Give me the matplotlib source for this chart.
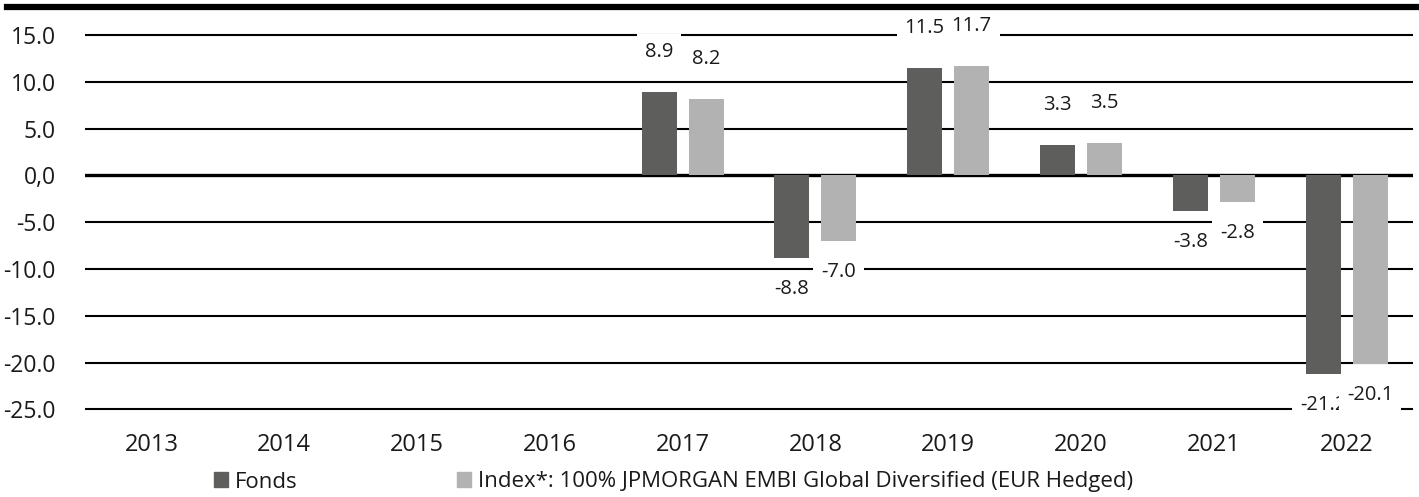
import matplotlib.pyplot as plt
import numpy as np
from matplotlib.lines import Line2D
from matplotlib.patches import Patch

plt.rcParams['font.family'] = ['Open Sans', 'DejaVu Sans']

# data
years = ['2013', '2014', '2015', '2016', '2017', '2018', '2019', '2020', '2021', '2022']
fonds = [None, None, None, None, 8.9, -8.8, 11.5, 3.3, -3.8, -21.2]
index = [None, None, None, None, 8.2, -7.0, 11.7, 3.5, -2.8, -20.1]
yticks = [15, 10, 5, 0, -5, -10, -15, -20, -25]
ytick_labels = ['15.0', '10.0', '5.0', '0,0', '-5.0', '-10.0', '-15.0', '-20.0', '-25.0']
series_names = ['Fonds', 'Index*: 100% JPMORGAN EMBI Global Diversified (EUR Hedged)']

c_fonds = '#5e5e5c'
c_index = '#b2b2b2'

W, H = 1419, 497
fig = plt.figure(figsize=(W / 100, H / 100), dpi=100)

# axes placement in pixels
ax_left, ax_right = 85, 1413
ax_top, ax_bot = 32.2, 412.3
ax = fig.add_axes([ax_left / W, 1 - ax_bot / H, (ax_right - ax_left) / W, (ax_bot - ax_top) / H])

ax.set_ylim(-25.3, 15.3)
ax.set_xlim(-0.5, len(years) - 0.5)

for t in yticks:
    ax.axhline(t, color='black', lw=2.4 if t == 0 else 1.5, zorder=1)

x = np.arange(len(years))
off, bw = 0.177, 0.264
bar_sets = [(fonds, -off, c_fonds), (index, off, c_index)]
for vals, dx, col in bar_sets:
    xs = [xi + dx for xi, v in zip(x, vals) if v is not None]
    vs = [v for v in vals if v is not None]
    ax.bar(xs, vs, width=bw, color=col, zorder=3)

# value labels with white boxes, drawn in order so later boxes overlap earlier ones
z = 5
for i in range(len(years)):
    for vals, dx, col in bar_sets:
        v = vals[i]
        if v is None:
            continue
        dy = 40 if v > 0 else -31
        ax.annotate('{:.1f}'.format(v), xy=(i + dx, v), xytext=(0, dy),
                    textcoords='offset pixels', ha='center', va='center',
                    fontsize=14.5, color='#1a1a1a', zorder=z,
                    bbox=dict(boxstyle='square,pad=0.4', fc='white', ec='none'))
        z += 1

ax.set_yticks(yticks)
ax.set_yticklabels(ytick_labels, fontsize=16.5, color='#1a1a1a')
ax.set_xticks(x)
ax.set_xticklabels(years, fontsize=17, color='#1a1a1a')
ax.tick_params(axis='y', length=0, pad=21)
ax.tick_params(axis='x', length=0, pad=15)
for s in ax.spines.values():
    s.set_visible(False)

# thick top rule
fig.add_artist(Line2D([7 / W, 1.0], [1 - 7 / H, 1 - 7 / H], color='black', lw=4.5,
                      transform=fig.transFigure))

handles = [Patch(color=c_fonds), Patch(color=c_index)]
fig.legend(handles, series_names, loc='center left', bbox_to_anchor=(214 / W, 1 - 482 / H),
           ncol=2, frameon=False, fontsize=16, handlelength=0.63, handleheight=0.68,
           handletextpad=0.32, columnspacing=7.15, borderaxespad=0, borderpad=0,
           labelcolor='#1a1a1a')

fig.savefig('out.png', dpi=100)
